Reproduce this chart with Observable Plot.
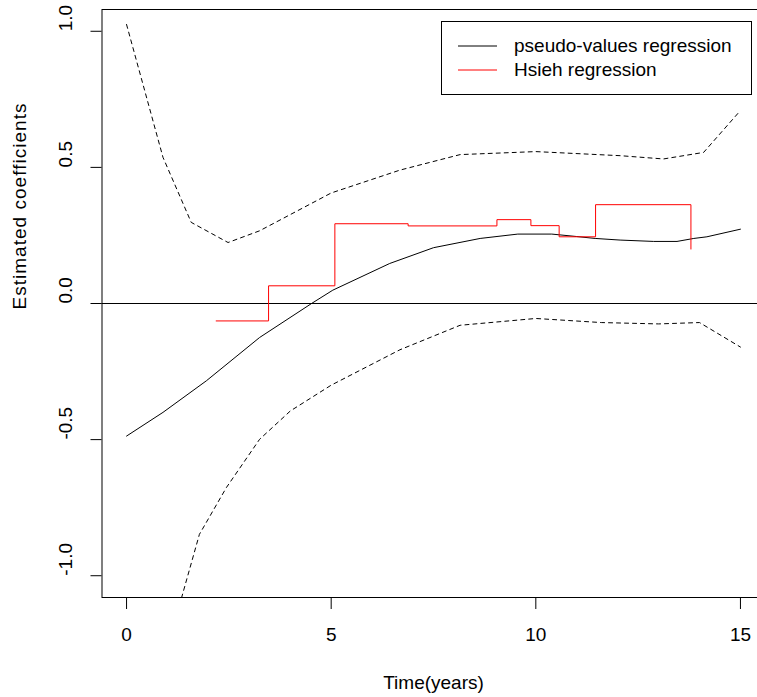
<!DOCTYPE html>
<html>
<head>
<meta charset="utf-8">
<script src="https://cdn.jsdelivr.net/npm/d3@7"></script>
<script src="https://cdn.jsdelivr.net/npm/@observablehq/plot@0.6"></script>
<style>
  html, body { margin: 0; padding: 0; background: #fff; overflow: hidden; }
  #wrap { position: relative; width: 757px; height: 697px; overflow: hidden; font-family: "Liberation Sans", Arial, sans-serif; }
  #wrap > svg { max-width: none !important; width: 766px; height: 697px; }
  #legend { position: absolute; left: 441px; top: 21px; width: 309px; height: 72px; border: 1px solid #000; background: #fff; }
  .item { position: absolute; left: 16px; height: 24px; display: flex; align-items: center; font-size: 19px; color: #000; white-space: nowrap; }
  .item svg { margin-right: 17px; }
</style>
</head>
<body>
<div id="wrap"></div>
<script>
// Pointwise estimate (pseudo-values regression)
const estTime = [0, 0.89, 1.95, 3.25, 4.52, 5.04, 6.43, 7.5, 8.64, 9.56, 10.39, 11.0, 11.45, 12.06, 12.88, 13.45, 13.86, 14.18, 15.0];
const estCoef = [-0.487, -0.40, -0.284, -0.125, 0, 0.049, 0.147, 0.205, 0.239, 0.255, 0.255, 0.246, 0.239, 0.233, 0.228, 0.228, 0.239, 0.245, 0.273];
// Upper confidence band
const upperTime = [0, 0.89, 1.58, 2.48, 3.25, 5.0, 6.68, 8.15, 10.0, 11.1, 12.06, 13.12, 14.1, 14.96];
const upperCoef = [1.025, 0.537, 0.298, 0.224, 0.267, 0.406, 0.49, 0.547, 0.558, 0.55, 0.543, 0.531, 0.555, 0.702];
// Lower confidence band
const lowerTime = [0, 0.89, 1.34, 1.78, 2.44, 3.25, 4.0, 5.0, 6.68, 8.15, 10.0, 11.6, 13.0, 14.0, 15.0];
const lowerCoef = [-2.0, -1.34, -1.083, -0.848, -0.676, -0.499, -0.395, -0.30, -0.17, -0.08, -0.055, -0.07, -0.075, -0.07, -0.16];
// Hsieh regression (step function)
const hsiehTime = [2.19, 3.47, 5.09, 6.88, 9.05, 9.88, 10.57, 11.46, 13.79];
const hsiehCoef = [-0.064, 0.065, 0.293, 0.285, 0.308, 0.286, 0.245, 0.363, 0.2];
// Ticks and labels
const xTicks = [0, 5, 10, 15];
const yTicks = [-1.0, -0.5, 0.0, 0.5, 1.0];
const xLabel = "Time(years)";
const yLabel = "Estimated coefficients";
const seriesNames = ["pseudo-values regression", "Hsieh regression"];
const seriesColors = ["#000000", "#ff0000"];

const zip = (xs, ys) => xs.map((x, i) => ({x, y: ys[i]}));
const est = zip(estTime, estCoef);
const upper = zip(upperTime, upperCoef);
const lower = zip(lowerTime, lowerCoef);
const hsieh = zip(hsiehTime, hsiehCoef);

const FS = 19;
const chart = Plot.plot({
  width: 766,
  height: 697,
  marginLeft: 101.5,
  marginRight: 1.5,
  marginTop: 9,
  marginBottom: 100,
  style: {fontFamily: "'Liberation Sans', Arial, sans-serif", background: "#fff", overflow: "visible", maxWidth: "none"},
  x: {domain: [-0.6, 15.6], axis: null},
  y: {domain: [-1.08, 1.08], axis: null},
  marks: [
    Plot.ruleY([0], {stroke: "#000", strokeWidth: 1}),
    Plot.line(upper, {x: "x", y: "y", stroke: "#000", strokeWidth: 1, strokeDasharray: "4,4", clip: true}),
    Plot.line(lower, {x: "x", y: "y", stroke: "#000", strokeWidth: 1, strokeDasharray: "4,4", clip: true}),
    Plot.line(est, {x: "x", y: "y", stroke: seriesColors[0], strokeWidth: 1, clip: true}),
    Plot.line(hsieh, {x: "x", y: "y", stroke: seriesColors[1], strokeWidth: 1, curve: "step-after", clip: true}),
    Plot.frame({stroke: "#000", strokeWidth: 1}),
    Plot.axisX({ticks: xTicks, tickSize: 12, tickFormat: () => "", label: null, stroke: "#000"}),
    Plot.axisY({ticks: yTicks, tickSize: 11, tickFormat: () => "", label: null, stroke: "#000"}),
    Plot.text(xTicks, {x: d => d, frameAnchor: "bottom", dy: 37, text: d => String(d), fontSize: FS, lineAnchor: "middle", fill: "#000"}),
    Plot.text(yTicks, {y: d => d, frameAnchor: "left", dx: -36.5, rotate: -90, text: d => d.toFixed(1), fontSize: FS, lineAnchor: "middle", fill: "#000"}),
    Plot.text([xLabel], {frameAnchor: "bottom", dy: 85, text: d => d, fontSize: FS, lineAnchor: "middle", fill: "#000"}),
    Plot.text([yLabel], {frameAnchor: "left", dx: -82, dy: 6, rotate: -90, text: d => d, fontSize: FS, lineAnchor: "middle", fill: "#000"})
  ]
});
chart.style.maxWidth = "none";
const wrap = document.getElementById("wrap");
wrap.appendChild(chart);
// stretch the rotated y title to the reference's length
chart.querySelectorAll("text").forEach(t => {
  if (t.textContent === yLabel) { t.setAttribute("textLength", "206"); t.setAttribute("lengthAdjust", "spacing"); }
});

// Legend overlay
const legend = document.createElement("div");
legend.id = "legend";
seriesNames.forEach((name, i) => {
  const item = document.createElement("div");
  item.className = "item";
  item.style.top = (12 + i * 24) + "px";
  item.innerHTML = `<svg width="39" height="2"><line x1="0" x2="39" y1="1" y2="1" stroke="${seriesColors[i]}" stroke-width="1"/></svg><span>${name}</span>`;
  legend.appendChild(item);
});
wrap.appendChild(legend);
</script>
</body>
</html>
